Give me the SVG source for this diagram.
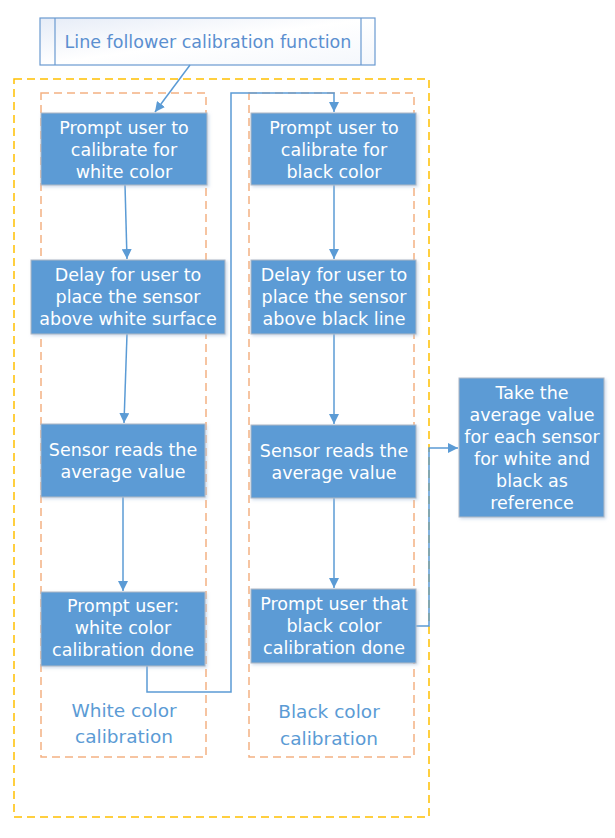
<svg xmlns="http://www.w3.org/2000/svg" width="615" height="838" viewBox="0 0 615 838">
<defs>
<linearGradient id="tg" x1="0" y1="0" x2="1" y2="1">
<stop offset="0" stop-color="#e6ecf7"/>
<stop offset="0.5" stop-color="#ffffff"/>
<stop offset="1" stop-color="#f4f7fc"/>
</linearGradient>
<marker id="ah" viewBox="0 0 10 10" refX="10" refY="5" markerWidth="10" markerHeight="10" markerUnits="userSpaceOnUse" orient="auto">
<path d="M0,0 L10,5 L0,10 z" fill="#5b9bd5"/>
</marker>
<filter id="sh" x="-10%" y="-10%" width="130%" height="130%">
<feDropShadow dx="1.5" dy="1.5" stdDeviation="1.5" flood-color="#9db8d8" flood-opacity="0.5"/>
</filter>
</defs>
<style>
.box{fill:#5b9bd5;stroke:#b0b8c4;stroke-width:1;filter:url(#sh)}
.bt{font-family:"DejaVu Sans","Liberation Sans",sans-serif;font-size:17.5px;fill:#ffffff;text-anchor:middle}
.lbl{font-family:"DejaVu Sans","Liberation Sans",sans-serif;font-size:18.5px;fill:#5b9bd5;text-anchor:middle}
.con{fill:none;stroke:#5b9bd5;stroke-width:1.5}
.outer{fill:none;stroke:#ffc000;stroke-width:1.5;stroke-dasharray:8,5}
.lane{fill:none;stroke:#f4b183;stroke-width:1.5;stroke-dasharray:8,5}
</style>
<rect x="0" y="0" width="615" height="838" fill="#ffffff"/>
<g id="containers">
<rect class="outer" x="14" y="79" width="415" height="738"/>
<rect class="lane" x="41" y="93" width="165" height="664"/>
<rect class="lane" x="249" y="93" width="165" height="664"/>
</g>
<g id="title">
<rect x="40" y="18" width="335" height="47" fill="url(#tg)" stroke="#6a9ad0" stroke-width="1.2"/>
<line x1="55" y1="18" x2="55" y2="65" stroke="#6a9ad0" stroke-width="1.2"/>
<line x1="361" y1="18" x2="361" y2="65" stroke="#6a9ad0" stroke-width="1.2"/>
<text x="208" y="48" font-family="DejaVu Sans,Liberation Sans,sans-serif" font-size="17.5" fill="#5b8fd0" text-anchor="middle">Line follower calibration function</text>
</g>
<g id="connectors">
<line class="con" x1="190" y1="65" x2="155" y2="112" marker-end="url(#ah)"/>
<line class="con" x1="125" y1="185" x2="127" y2="259" marker-end="url(#ah)"/>
<line class="con" x1="127" y1="334" x2="124" y2="423" marker-end="url(#ah)"/>
<line class="con" x1="123" y1="497" x2="123" y2="591" marker-end="url(#ah)"/>
<polyline class="con" points="147,666 147,692 231,692 231,93 334,93 334,112" marker-end="url(#ah)"/>
<line class="con" x1="334" y1="185" x2="334" y2="259" marker-end="url(#ah)"/>
<line class="con" x1="334" y1="334" x2="334" y2="424" marker-end="url(#ah)"/>
<line class="con" x1="334" y1="498" x2="334" y2="588" marker-end="url(#ah)"/>
<polyline class="con" points="416,626 429,626 429,448 458,448" marker-end="url(#ah)"/>
</g>
<g id="w1">
<rect class="box" x="41" y="113" width="166" height="72"/>
<text class="bt" x="124" y="134">Prompt user to</text>
<text class="bt" x="124" y="156">calibrate for</text>
<text class="bt" x="124" y="178">white color</text>
</g>
<g id="w2">
<rect class="box" x="31" y="260" width="194" height="74"/>
<text class="bt" x="128" y="281">Delay for user to</text>
<text class="bt" x="128" y="303">place the sensor</text>
<text class="bt" x="128" y="325">above white surface</text>
</g>
<g id="w3">
<rect class="box" x="41" y="424" width="164" height="73"/>
<text class="bt" x="123" y="456">Sensor reads the</text>
<text class="bt" x="123" y="478">average value</text>
</g>
<g id="w4">
<rect class="box" x="41" y="592" width="164" height="74"/>
<text class="bt" x="123" y="612">Prompt user:</text>
<text class="bt" x="123" y="634">white color</text>
<text class="bt" x="123" y="656">calibration done</text>
</g>
<g id="b1">
<rect class="box" x="251" y="113" width="165" height="72"/>
<text class="bt" x="334" y="134">Prompt user to</text>
<text class="bt" x="334" y="156">calibrate for</text>
<text class="bt" x="334" y="178">black color</text>
</g>
<g id="b2">
<rect class="box" x="251" y="260" width="165" height="74"/>
<text class="bt" x="334" y="281">Delay for user to</text>
<text class="bt" x="334" y="303">place the sensor</text>
<text class="bt" x="334" y="325">above black line</text>
</g>
<g id="b3">
<rect class="box" x="251" y="425" width="165" height="73"/>
<text class="bt" x="334" y="457">Sensor reads the</text>
<text class="bt" x="334" y="479">average value</text>
</g>
<g id="b4">
<rect class="box" x="251" y="589" width="165" height="74"/>
<text class="bt" x="334" y="610">Prompt user that</text>
<text class="bt" x="334" y="632">black color</text>
<text class="bt" x="334" y="654">calibration done</text>
</g>
<g id="result">
<rect class="box" x="459" y="378" width="145" height="139"/>
<text class="bt" x="532" y="399">Take the</text>
<text class="bt" x="532" y="421">average value</text>
<text class="bt" x="532" y="443">for each sensor</text>
<text class="bt" x="532" y="465">for white and</text>
<text class="bt" x="532" y="487">black as</text>
<text class="bt" x="532" y="509">reference</text>
</g>
<g id="lane-labels">
<text class="lbl" x="124" y="717">White color</text>
<text class="lbl" x="124" y="743">calibration</text>
<text class="lbl" x="329" y="718">Black color</text>
<text class="lbl" x="329" y="745">calibration</text>
</g>
</svg>
